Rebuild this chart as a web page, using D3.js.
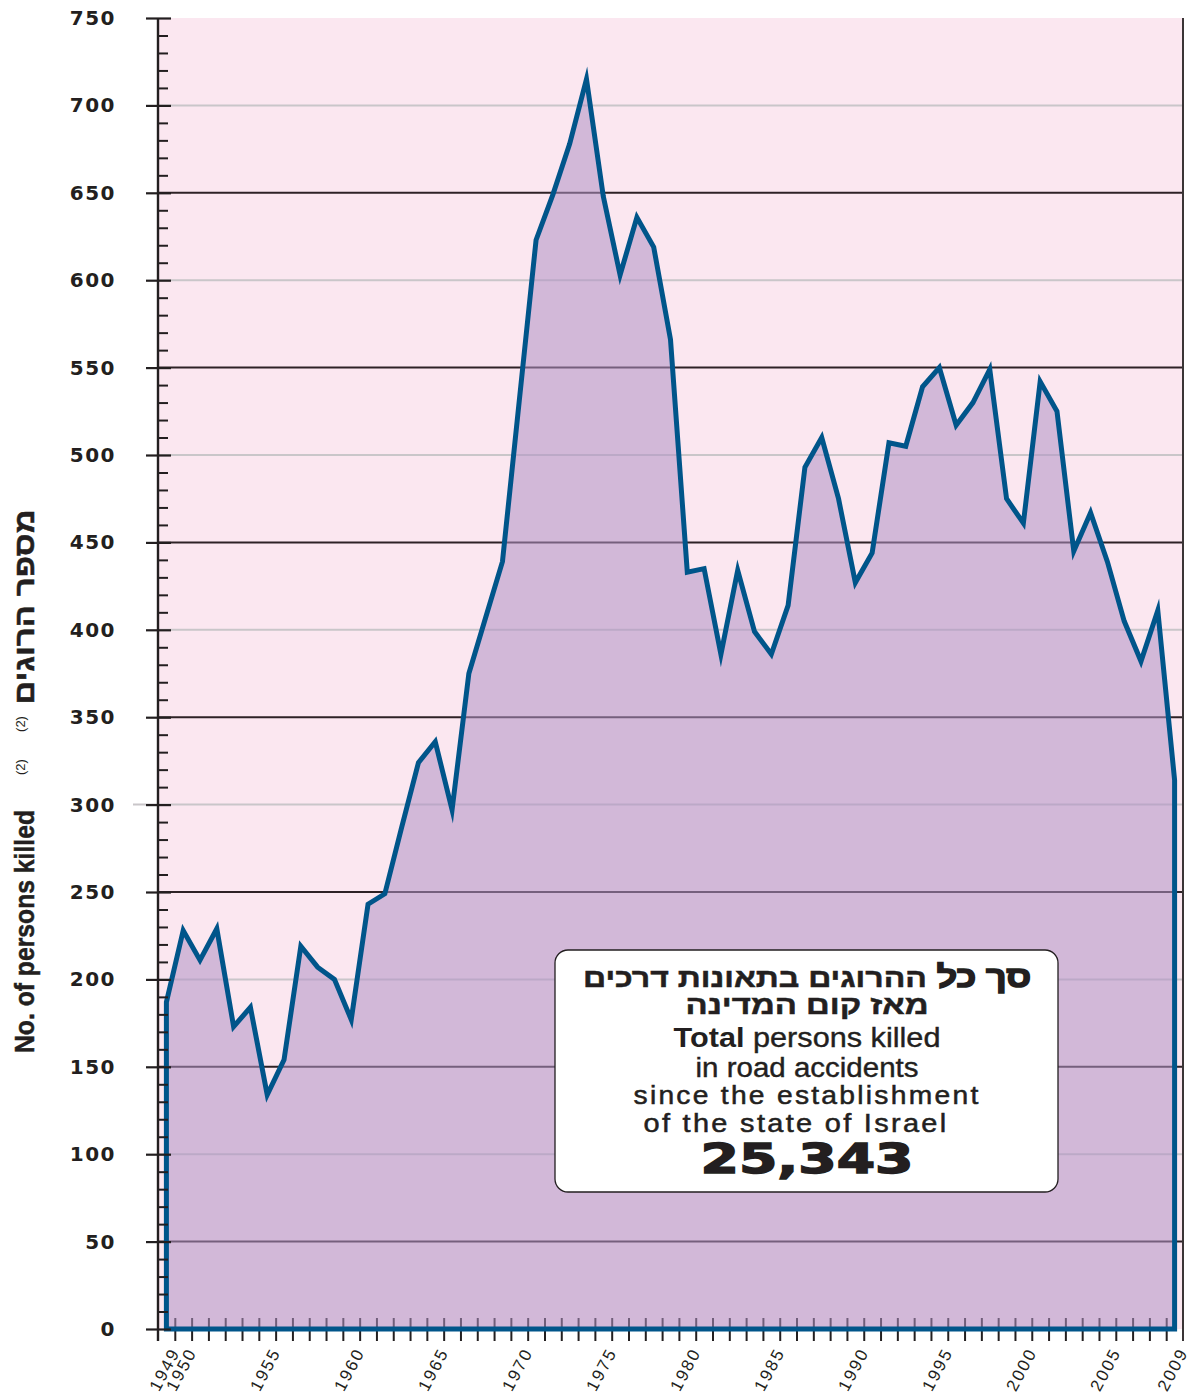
<!DOCTYPE html>
<html><head><meta charset="utf-8">
<script src="https://cdn.jsdelivr.net/npm/d3@7"></script>
<style>body{margin:0;background:#fff}svg{display:block}</style>
</head><body><svg id="c" width="1194" height="1400"></svg>
<script>
const years = [1949,1950,1951,1952,1953,1954,1955,1956,1957,1958,1959,
  1960,1961,1962,1963,1964,1965,1966,1967,1968,1969,
  1970,1971,1972,1973,1974,1975,1976,1977,1978,1979,
  1980,1981,1982,1983,1984,1985,1986,1987,1988,1989,
  1990,1991,1992,1993,1994,1995,1996,1997,1998,1999,
  2000,2001,2002,2003,2004,2005,2006,2007,2008,2009];
const killed = [187,228,211,229,173,184,134,154,219,207,200,
  177,243,249,287,324,336,297,375,407,439,
  531,623,649,678,715,648,603,636,619,566,
  433,435,386,434,399,386,414,493,510,475,
  427,444,507,505,539,550,517,530,549,475,
  461,542,525,445,467,439,405,382,411,314];
const yTickValues = [0,50,100,150,200,250,300,350,400,450,500,550,600,650,700,750];
const darkGrid = [50,150,250,350,450,550,650];
const lightGrid = [100,200,300,400,500,600,700];
const xLabelYears = [1949,1950,1955,1960,1965,1970,1975,1980,1985,1990,1995,2000,2005,2009];
const titleEn = "No. of persons killed";
const titleHe = "מספר הרוגים";
const footnote = "(2)";
const boxHeb1Bold = "סך כל ";
const boxHeb1 = "ההרוגים בתאונות דרכים";
const boxHeb2 = "מאז קום המדינה";
const boxEnTotal = "Total";
const boxEn1 = " persons killed";
const boxEn2 = "in road accidents";
const boxEn3 = "since the establishment";
const boxEn4 = "of the state of Israel";
const boxTotal = "25,343";

const svg = d3.select("#c");
const L = 158, R = 1183, T = 18, B = 1329;
const x = d3.scaleLinear().domain([1948.5, 2009.5]).range([L, R]);
const y = d3.scaleLinear().domain([0, 750]).range([B, T]);
const data = years.map((yr, i) => ({yr, v: killed[i]}));
const ink = "#231f20";

// background
svg.append("rect").attr("x", L).attr("y", T).attr("width", R - L).attr("height", B - T).attr("fill", "#fbe7f0");

// gridlines
svg.append("g").selectAll("line").data(lightGrid).join("line")
  .attr("x1", d => d === 300 ? 133 : L).attr("x2", R)
  .attr("y1", d => y(d)).attr("y2", d => y(d))
  .attr("stroke", "#c9c6c9").attr("stroke-width", 2);
svg.append("g").selectAll("line").data(darkGrid).join("line")
  .attr("x1", L).attr("x2", R)
  .attr("y1", d => y(d)).attr("y2", d => y(d))
  .attr("stroke", "#2e2226").attr("stroke-width", 2);

// x ticks (year boundaries)
const xAxis = d3.axisBottom(x).tickValues(years.slice(0, -1).map(d => d + 0.5)).tickSize(11).tickSizeOuter(0).tickFormat("");
const gx = svg.append("g").attr("transform", `translate(0,${B + 1})`).call(xAxis);
gx.select(".domain").remove();
gx.selectAll(".tick line").attr("stroke", ink).attr("stroke-width", 2).attr("y1", -12);

// area
const area = d3.area().x(d => x(d.yr)).y0(y(0)).y1(d => y(d.v));
svg.append("path").datum(data).attr("d", area)
  .attr("fill", "rgb(177,146,196)").attr("fill-opacity", 0.55);
svg.append("path").datum(data).attr("d", area)
  .attr("fill", "none").attr("stroke", "#00558a").attr("stroke-width", 5)
  .attr("stroke-linejoin", "miter").attr("stroke-miterlimit", 10);

// y axis
const yAxis = d3.axisLeft(y).tickValues(yTickValues).tickSize(12).tickSizeOuter(0).tickPadding(30);
const gy = svg.append("g").attr("transform", `translate(${L},0)`).call(yAxis);
gy.select(".domain").remove();
gy.selectAll(".tick line").attr("stroke", ink).attr("stroke-width", 2.2).attr("x2", 13).attr("x1", -12);
gy.selectAll(".tick text").attr("fill", ink)
  .style("font-family", "'DejaVu Sans', sans-serif").style("font-weight", "bold")
  .style("font-size", "20px").style("letter-spacing", "1.5px");
const yMinor = d3.axisRight(y).tickValues(y.ticks(75).filter(d => d % 50 !== 0)).tickSize(10).tickFormat("").tickSizeOuter(0);
const gym = svg.append("g").attr("transform", `translate(${L},0)`).call(yMinor);
gym.select(".domain").remove();
gym.selectAll(".tick line").attr("stroke", ink).attr("stroke-width", 2);
svg.append("line").attr("x1", L).attr("x2", L).attr("y1", T).attr("y2", B + 12)
  .attr("stroke", ink).attr("stroke-width", 2.4);
svg.append("line").attr("x1", R).attr("x2", R).attr("y1", T).attr("y2", B + 12)
  .attr("stroke", "#3a3536").attr("stroke-width", 2);

// x labels
svg.append("g").selectAll("text").data(xLabelYears).join("text")
  .attr("transform", d => `translate(${x(d) + 14},${1352}) rotate(-62)`)
  .attr("text-anchor", "end")
  .style("font-family", "'Liberation Sans', Arial, sans-serif")
  .style("font-size", "17px").style("letter-spacing", "2px").attr("fill", ink)
  .text(d => d);

// y title
const tfont = "'Liberation Sans', Arial, sans-serif";
svg.append("text").attr("transform", "translate(34,1053) rotate(-90)")
  .attr("text-anchor", "start").attr("textLength", 243).attr("lengthAdjust", "spacingAndGlyphs")
  .style("font-family", tfont).style("font-weight", "bold").style("font-size", "28px")
  .attr("fill", ink).attr("stroke", ink).attr("stroke-width", 0.5)
  .text(titleEn);
svg.append("text").attr("transform", "translate(25,775) rotate(-90)")
  .attr("text-anchor", "start")
  .style("font-family", tfont).style("font-size", "13px").attr("fill", ink).text(footnote);
svg.append("text").attr("transform", "translate(34,607) rotate(-90)")
  .attr("text-anchor", "middle").attr("textLength", 195).attr("lengthAdjust", "spacingAndGlyphs")
  .style("font-family", tfont).style("font-weight", "bold").style("font-size", "28px")
  .attr("fill", ink).attr("stroke", ink).attr("stroke-width", 0.5)
  .text(titleHe);
svg.append("text").attr("transform", "translate(25,724) rotate(-90)")
  .attr("text-anchor", "middle")
  .style("font-family", tfont).style("font-size", "13px").attr("fill", ink).text(footnote);

// info box
const bx = svg.append("g");
bx.append("rect").attr("x", 555).attr("y", 950).attr("width", 503).attr("height", 242)
  .attr("rx", 13).attr("fill", "#ffffff").attr("stroke", ink).attr("stroke-width", 1.3);
const cx = 807;
const t1 = bx.append("text").attr("x", cx).attr("y", 987).attr("text-anchor", "middle")
  .attr("textLength", 448).attr("lengthAdjust", "spacingAndGlyphs")
  .style("font-family", tfont).style("font-size", "27px").attr("fill", ink);
t1.append("tspan").style("font-weight", "bold").style("font-size", "30px")
  .attr("stroke", ink).attr("stroke-width", 1.6).text(boxHeb1Bold);
t1.append("tspan").style("font-weight", "bold").attr("stroke", ink).attr("stroke-width", 0.5).text(boxHeb1);
bx.append("text").attr("x", cx).attr("y", 1014).attr("text-anchor", "middle")
  .attr("textLength", 243).attr("lengthAdjust", "spacingAndGlyphs")
  .style("font-family", tfont).style("font-weight", "bold").style("font-size", "26px")
  .attr("fill", ink).attr("stroke", ink).attr("stroke-width", 0.5)
  .text(boxHeb2);
const t3 = bx.append("text").attr("x", cx).attr("y", 1047).attr("text-anchor", "middle")
  .attr("textLength", 267).attr("lengthAdjust", "spacingAndGlyphs")
  .style("font-family", tfont).style("font-size", "28px").attr("fill", ink);
t3.append("tspan").style("font-weight", "bold").text(boxEnTotal);
t3.append("tspan").attr("stroke", ink).attr("stroke-width", 0.4).text(boxEn1);
bx.append("text").attr("x", cx).attr("y", 1077).attr("text-anchor", "middle")
  .attr("textLength", 223).attr("lengthAdjust", "spacingAndGlyphs")
  .style("font-family", tfont).style("font-size", "27px")
  .attr("fill", ink).attr("stroke", ink).attr("stroke-width", 0.4).text(boxEn2);
bx.append("text").attr("x", cx).attr("y", 1104).attr("text-anchor", "middle")
  .attr("textLength", 347).attr("lengthAdjust", "spacingAndGlyphs")
  .style("font-family", tfont).style("font-size", "25px").style("letter-spacing", "2px")
  .attr("fill", ink).attr("stroke", ink).attr("stroke-width", 0.5).text(boxEn3);
bx.append("text").attr("x", 796).attr("y", 1132).attr("text-anchor", "middle")
  .attr("textLength", 305).attr("lengthAdjust", "spacingAndGlyphs")
  .style("font-family", tfont).style("font-size", "25px").style("letter-spacing", "2px")
  .attr("fill", ink).attr("stroke", ink).attr("stroke-width", 0.5).text(boxEn4);
bx.append("text").attr("x", cx).attr("y", 1173).attr("text-anchor", "middle")
  .attr("textLength", 213).attr("lengthAdjust", "spacingAndGlyphs")
  .style("font-family", "'DejaVu Sans', sans-serif").style("font-weight", "bold").style("font-size", "41px")
  .attr("fill", ink).attr("stroke", ink).attr("stroke-width", 1.5).text(boxTotal);
</script></body></html>
